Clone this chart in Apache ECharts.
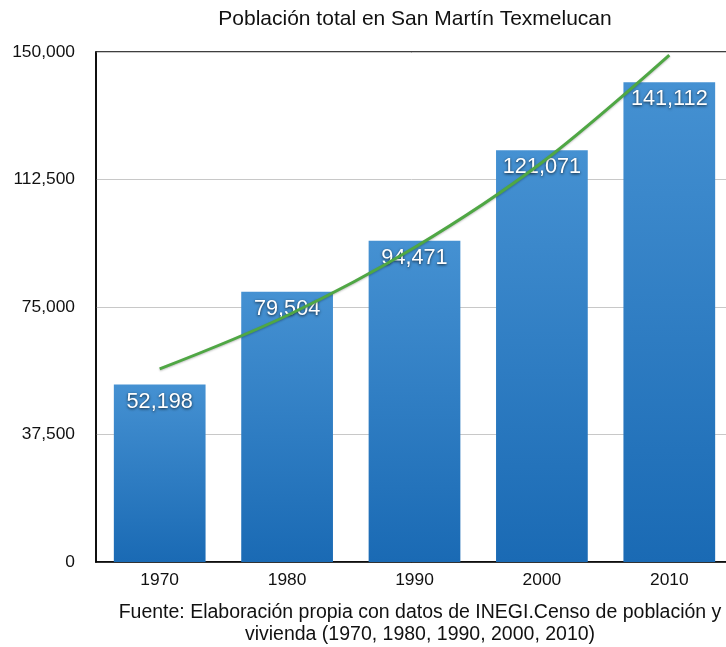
<!DOCTYPE html>
<html><head><meta charset="utf-8">
<script src="https://cdn.jsdelivr.net/npm/echarts@6/dist/echarts.min.js"></script>
<style>html,body{margin:0;padding:0;background:#fff}#c{width:726px;height:647px}</style>
</head><body><div id="c"></div>
<script>
const categories = ['1970', '1980', '1990', '2000', '2010'];
const population = [52198, 79504, 94471, 121071, 141112];
const trendValues = [56800, 72500, 92500, 117500, 149100];
const yTicks = [0, 37500, 75000, 112500, 150000];
const titleText = 'Población total en San Martín Texmelucan';
const sourceLines = ['Fuente: Elaboración propia con datos de INEGI.Censo de población y', 'vivienda (1970, 1980, 1990, 2000, 2010)'];

const font = '"Liberation Sans", Arial, Helvetica, sans-serif';
const chart = echarts.init(document.getElementById('c'), null, {renderer: 'canvas'});
chart.setOption({
  animation: false,
  textStyle: {fontFamily: font},
  title: {
    text: titleText, left: 410, top: 4, textAlign: 'center',
    textStyle: {fontFamily: font, fontSize: 21, fontWeight: 'normal', color: '#111'}
  },
  graphic: [{
    type: 'text', x: 420, y: 602,
    style: {
      text: sourceLines.join('\n'), align: 'center', verticalAlign: 'top',
      font: '19.5px ' + font, fill: '#111', lineHeight: 22
    }
  }],
  grid: {left: 96, top: 52, width: 637, bottom: 85, outerBoundsMode: 'none', show: true, borderColor: '#000', borderWidth: 1.5, backgroundColor: 'transparent'},
  xAxis: {
    type: 'category', data: categories,
    axisLine: {lineStyle: {color: '#000', width: 1.5}},
    axisTick: {show: false},
    axisLabel: {color: '#111', fontSize: 17.4, margin: 10, fontFamily: font}
  },
  yAxis: {
    type: 'value', min: yTicks[0], max: yTicks[yTicks.length - 1], interval: yTicks[1] - yTicks[0],
    axisLine: {show: true, lineStyle: {color: '#000', width: 1.5}},
    axisTick: {show: false},
    splitLine: {lineStyle: {color: '#c8c8c8', width: 1}},
    axisLabel: {
      color: '#111', fontSize: 17.4, margin: 21, fontFamily: font,
      formatter: v => v.toLocaleString('en-US')
    }
  },
  series: [{
    type: 'bar', data: population, barCategoryGap: '28%',
    itemStyle: {
      color: new echarts.graphic.LinearGradient(0, 0, 0, 1, [
        {offset: 0, color: '#4591d2'}, {offset: 1, color: '#1a6ab4'}
      ])
    },
    label: {
      show: true, position: 'insideTop', distance: 6,
      formatter: p => p.value.toLocaleString('en-US'),
      color: '#fff', fontSize: 21.7, fontFamily: font,
      textShadowColor: 'rgba(0,0,0,0.75)', textShadowBlur: 3, textShadowOffsetY: 1
    }
  }, {
    type: 'line', data: trendValues, smooth: 0.35, symbol: 'none', z: 5,
    lineStyle: {color: '#4fa744', width: 3, shadowColor: 'rgba(0,0,0,0.25)', shadowBlur: 2, shadowOffsetY: 1}
  }]
});
</script></body></html>
